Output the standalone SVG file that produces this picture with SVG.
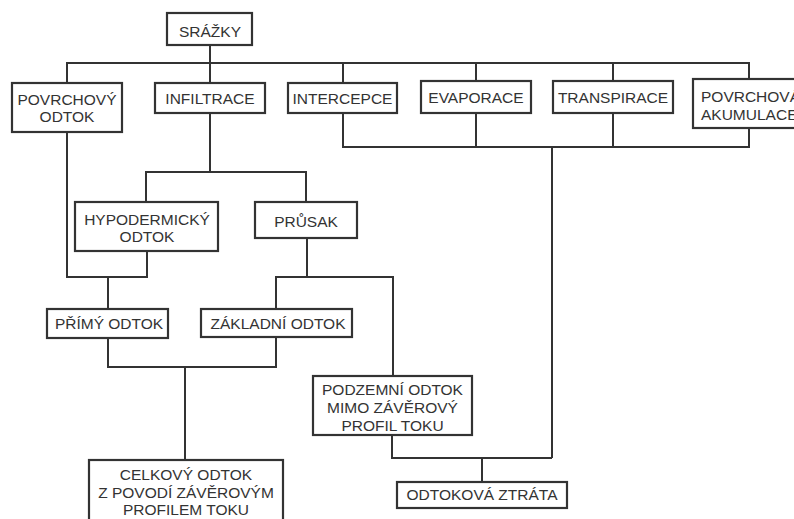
<svg xmlns="http://www.w3.org/2000/svg" width="794" height="519" viewBox="0 0 794 519">
<style>
rect.n{fill:#fff;stroke:#333;stroke-width:2.2}
text{font-family:"Liberation Sans",Arial,sans-serif;font-size:15.5px;fill:#333;text-anchor:middle}
.c path{fill:none;stroke:#333;stroke-width:2}
</style>
<rect width="794" height="519" fill="#fff"/>
<g class="c" id="connectors">
<path d="M210 45V83M67 83V63H749V79"/>
<path d="M343 63V83M476 63V81M613 63V81"/>
<path d="M343 113V147H749V128M476 113V147M613 113V147"/>
<path d="M552 147V458"/>
<path d="M210 113V172M146 202V172H306V202"/>
<path d="M67 132V277H147V251M108 277V309"/>
<path d="M307 238V277M276 309V277H393V376"/>
<path d="M108 338V367H276V337M185 367V460"/>
<path d="M392 435V458H552M482 458V482"/>
</g>
<g id="srazky"><rect class="n" x="167" y="13" width="85" height="32"/><text x="210" y="37">SRÁŽKY</text></g>
<g id="povrchovy-odtok"><rect class="n" x="12" y="83" width="110" height="49"/><text x="67" y="105">POVRCHOVÝ</text><text x="67" y="122">ODTOK</text></g>
<g id="infiltrace"><rect class="n" x="155" y="83" width="110" height="30"/><text x="210" y="104">INFILTRACE</text></g>
<g id="intercepce"><rect class="n" x="288" y="83" width="109" height="30"/><text x="342.5" y="104">INTERCEPCE</text></g>
<g id="evaporace"><rect class="n" x="421" y="81" width="110" height="32"/><text x="476" y="103">EVAPORACE</text></g>
<g id="transpirace"><rect class="n" x="553" y="81" width="120" height="32"/><text x="613" y="103">TRANSPIRACE</text></g>
<g id="povrchova-akumulace"><rect class="n" x="693" y="79" width="110" height="49"/><text x="701" y="102" style="text-anchor:start">POVRCHOVÁ</text><text x="701" y="120" style="text-anchor:start">AKUMULACE</text></g>
<g id="hypodermicky-odtok"><rect class="n" x="75" y="202" width="143" height="49"/><text x="147" y="225">HYPODERMICKÝ</text><text x="147" y="242">ODTOK</text></g>
<g id="prusak"><rect class="n" x="255" y="202" width="102" height="36"/><text x="306" y="227">PRŮSAK</text></g>
<g id="primy-odtok"><rect class="n" x="47" y="309" width="121" height="29"/><text x="109" y="329">PŘÍMÝ ODTOK</text></g>
<g id="zakladni-odtok"><rect class="n" x="201" y="309" width="151" height="28"/><text x="278" y="329">ZÁKLADNÍ ODTOK</text></g>
<g id="podzemni-odtok"><rect class="n" x="313" y="376" width="159" height="59"/><text x="392.5" y="395">PODZEMNÍ ODTOK</text><text x="392.5" y="413">MIMO ZÁVĚROVÝ</text><text x="392.5" y="431">PROFIL TOKU</text></g>
<g id="celkovy-odtok"><rect class="n" x="89" y="460" width="194" height="70"/><text x="186" y="480">CELKOVÝ ODTOK</text><text x="186" y="498">Z POVODÍ ZÁVĚROVÝM</text><text x="186" y="515">PROFILEM TOKU</text></g>
<g id="odtokova-ztrata"><rect class="n" x="397" y="482" width="170" height="26"/><text x="482" y="500">ODTOKOVÁ ZTRÁTA</text></g>
</svg>
